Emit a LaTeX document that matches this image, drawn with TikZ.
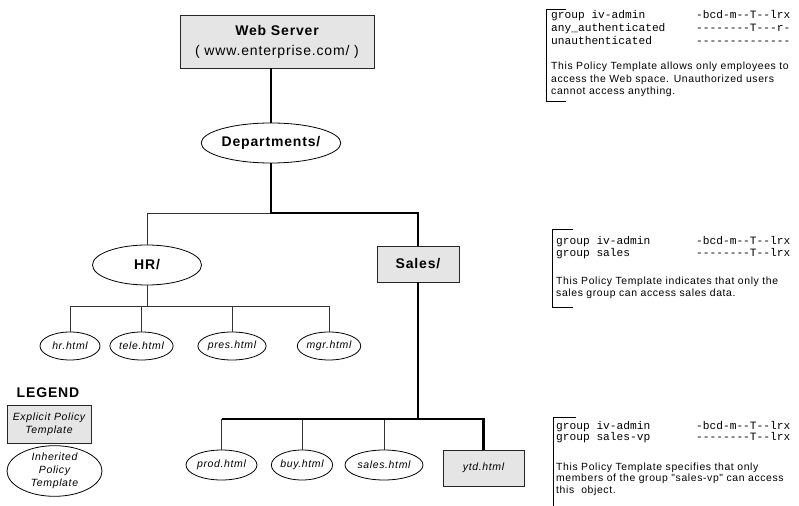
\documentclass[tikz,border=0pt]{standalone}
\usepackage{fontspec}
\setmainfont{Liberation Sans}
\setmonofont{Liberation Mono}
\newfontfamily\spfont[LetterSpace=6]{Liberation Sans}
\usetikzlibrary{shapes.geometric}
\begin{document}
\begin{tikzpicture}[x=1bp,y=-1bp,
  box/.style={draw=black!85, fill=black!10, line width=0.9bp, inner sep=0pt, align=center},
  oval/.style={ellipse, draw=black, line width=0.8bp, fill=white, inner sep=0pt, align=center},
  big/.style={font=\spfont\bfseries\fontsize{14bp}{20bp}\selectfont},
  leaf/.style={font=\spfont\itshape\fontsize{10.5bp}{13bp}\selectfont},
  heavy/.style={line width=2.4bp, draw=black},
  light/.style={line width=0.9bp, draw=black!80},
  mono/.style={font=\ttfamily\fontsize{11.2bp}{13bp}\selectfont, anchor=base west, inner sep=0pt},
  para/.style={font=\spfont\fontsize{10.4bp}{12.5bp}\selectfont, anchor=base west, inner sep=0pt},
  bracket/.style={line width=0.9bp, draw=black}
]
\useasboundingbox (0,0) rectangle (799,506);

% tree nodes
\node[box, big, minimum width=194bp, minimum height=53bp] (web) at (277,41.5) {Web Server\\{\mdseries( www.enterprise.com/ )}};
\node[oval, big, minimum width=132bp, minimum height=40bp] (dep) at (271,143) {Departments/};
\node[oval, big, minimum width=109bp, minimum height=40bp] (hr) at (147,265) {HR/};
\node[box, big, minimum width=82bp, minimum height=36bp] (sales) at (418,264) {Sales/};

\node[oval, leaf, minimum width=60bp, minimum height=28bp] (hrh) at (70,346) {hr.html};
\node[oval, leaf, minimum width=62bp, minimum height=28bp] (tele) at (141.5,346) {tele.html};
\node[oval, leaf, minimum width=66bp, minimum height=28bp] (pres) at (232,346) {pres.html};
\node[oval, leaf, minimum width=61bp, minimum height=28bp] (mgr) at (329,346) {mgr.html};

\node[oval, leaf, minimum width=71bp, minimum height=30bp] (prod) at (221.5,465) {prod.html};
\node[oval, leaf, minimum width=52bp, minimum height=30bp] (buy) at (302,465) {buy.html};
\node[oval, leaf, minimum width=78bp, minimum height=30bp] (salesh) at (384,465) {sales.html};
\node[box, leaf, minimum width=81bp, minimum height=36bp] (ytd) at (483.5,468) {ytd.html};

% level coordinates
\coordinate (y1) at (0,213);
\coordinate (y2) at (0,306);
\coordinate (y3) at (0,419);

% connectors
\draw[heavy] (web.south -| dep.north) -- (dep.north);
\draw[light] (dep.south |- y1) -| (hr.north);
\draw[heavy] (dep.south) -- (dep.south |- y1) -| (sales.north);
\draw[light] (hr.south) -- (hr.south |- y2);
\draw[light] (hrh.north) |- (mgr.north |- y2) -- (mgr.north);
\draw[light] (tele.north) -- (tele.north |- y2);
\draw[light] (pres.north) -- (pres.north |- y2);
\draw[light] (prod.north) -- (prod.north |- y3);
\draw[light] (buy.north) -- (buy.north |- y3);
\draw[light] (salesh.north) -- (salesh.north |- y3);
\draw[heavy] (prod.north |- y3) -- (sales.south |- y3);
\draw[heavy] (sales.south) -- (sales.south |- y3) -| (ytd.north);

% legend
\node[big] (leg) at (48,393) {LEGEND};
\node[box, leaf, minimum width=84bp, minimum height=38bp] (lexp) at (49,424) {Explicit Policy\\Template};
\node[oval, leaf, minimum width=95bp, minimum height=42bp] (linh) at (54.5,471) {Inherited\\Policy\\Template};

% policy block 1
\draw[bracket] (566,9) -- (546,9) -- (546,101) -- (566,101);
\node[mono] (a1) at (551,19) {group iv-admin};
\node[mono] (a2) at (696,19) {-bcd-m--T--lrx};
\node[mono] (a3) at (551,32) {any\_authenticated};
\node[mono] (a4) at (696,32) {--------T---r-};
\node[mono] (a5) at (551,45) {unauthenticated};
\node[mono] (a6) at (696,45) {--------------};
\node[para] (a7) at (551,70) {This Policy Template allows only employees to};
\node[para] (a8) at (551,82.5) {access the Web space. Unauthorized users};
\node[para] (a9) at (551,95) {cannot access anything.};

% policy block 2
\draw[bracket] (573,229) -- (552,229) -- (552,307) -- (573,307);
\node[mono] (b1) at (556,245) {group iv-admin};
\node[mono] (b2) at (696,245) {-bcd-m--T--lrx};
\node[mono] (b3) at (556,257) {group sales};
\node[mono] (b4) at (696,257) {--------T--lrx};
\node[para] (b5) at (556,285) {This Policy Template indicates that only the};
\node[para] (b6) at (556,296.5) {sales group can access sales data.};

% policy block 3
\draw[bracket] (576,417) -- (553,417) -- (553,506);
\node[mono] (c1) at (556,429) {group iv-admin};
\node[mono] (c2) at (696,429) {-bcd-m--T--lrx};
\node[mono] (c3) at (556,440) {group sales-vp};
\node[mono] (c4) at (696,440) {--------T--lrx};
\node[para] (c5) at (556,470.5) {This Policy Template specifies that only};
\node[para] (c6) at (556,481.5) {members of the group "sales-vp" can access};
\node[para] (c7) at (556,493) {this\ \ object.};
\end{tikzpicture}
\end{document}
